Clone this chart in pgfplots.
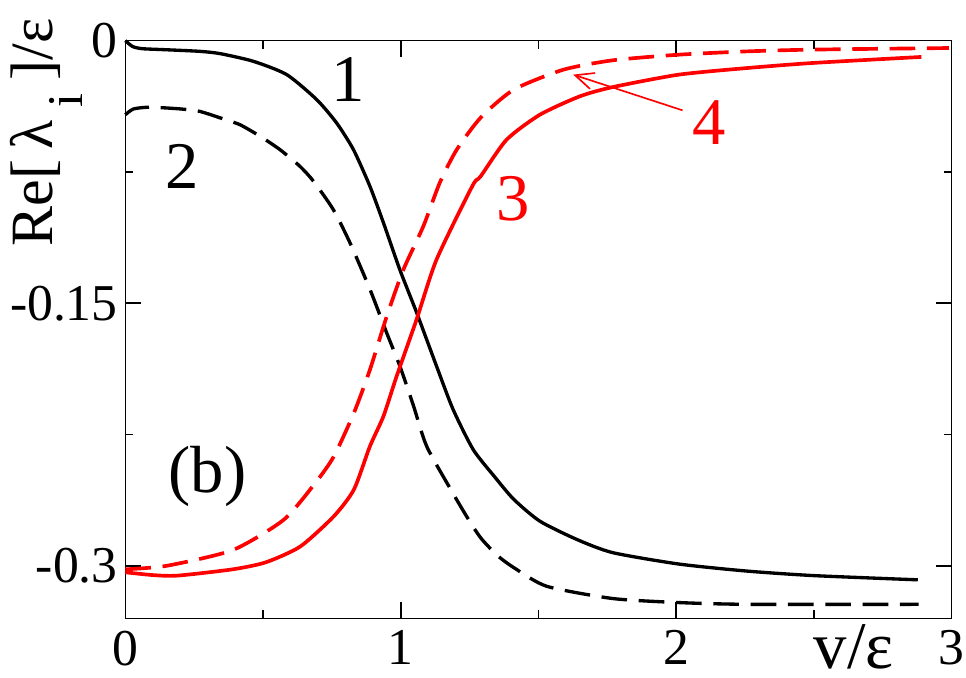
\documentclass[border=0pt]{standalone}
\usepackage{fontspec}
\setmainfont{Liberation Serif}
\usepackage{pgfplots}
\pgfplotsset{compat=1.18}
\usetikzlibrary{arrows.meta}

\begin{document}
\begin{tikzpicture}
\begin{axis}[
  scale only axis, width=247.9pt, height=173.3pt,
  xmin=0, xmax=3, ymin=-0.33, ymax=0,
  xtick={0,1,2,3}, xticklabels={0,1,2,3},
  ytick={-0.3,-0.15,0}, yticklabels={-0.3,-0.15,0},
  minor x tick num=1, minor y tick num=1,
  tick align=inside, xtick pos=both, ytick pos=both,
  xticklabel pos=lower, yticklabel pos=left,
  major tick length=4.8pt, minor tick length=2.4pt,
  axis line style={line width=0.45pt},
  tick style={black, line width=0.45pt},
  ticklabel style={font=\fontsize{15.5}{16}\selectfont, inner sep=0pt},
  xticklabel style={yshift=-3.5pt},
  yticklabel style={xshift=-2.1pt},
  every axis plot/.append style={smooth, tension=0.4, line join=round},
  clip=false,
]
% 1
\addplot[black, line width=1pt] coordinates {
(0,0) (0.027,-0.0034) (0.063,-0.0046) (0.15,-0.0052) (0.27,-0.0061)
(0.344,-0.0074) (0.465,-0.0118) (0.586,-0.0194) (0.695,-0.0337) (0.767,-0.047)
(0.828,-0.0622) (0.888,-0.0832) (0.937,-0.104) (0.997,-0.131) (1.058,-0.1555)
(1.13,-0.186) (1.19,-0.2107) (1.263,-0.2336) (1.34,-0.249) (1.41,-0.262)
(1.505,-0.2745) (1.64,-0.285) (1.77,-0.2925) (2.01,-0.299) (2.256,-0.303)
(2.50,-0.3056) (2.877,-0.308)};
% 2
\addplot[black, line width=1pt, dash pattern=on 7.7pt off 3.5pt] coordinates {
(0,-0.0423) (0.03,-0.039) (0.09,-0.038) (0.2,-0.039) (0.27,-0.0404)
(0.344,-0.0441) (0.416,-0.048) (0.489,-0.0546) (0.561,-0.0622) (0.634,-0.0718)
(0.683,-0.0803) (0.755,-0.0965) (0.816,-0.1156) (0.888,-0.142) (0.949,-0.167)
(0.997,-0.186) (1.045,-0.208) (1.094,-0.2317) (1.18,-0.256) (1.24,-0.272)
(1.29,-0.284) (1.35,-0.294) (1.41,-0.301) (1.53,-0.3117) (1.77,-0.3187)
(2.01,-0.321) (2.26,-0.322) (2.88,-0.322)};
% 3
\addplot[red, line width=1.1pt] coordinates {
(0,-0.3037) (0.1,-0.3053) (0.19,-0.3056) (0.39,-0.302) (0.51,-0.298)
(0.635,-0.289) (0.757,-0.2717) (0.83,-0.2564) (0.888,-0.2317) (0.937,-0.2146)
(0.985,-0.1917) (1.058,-0.159) (1.13,-0.125) (1.26,-0.083) (1.29,-0.0775)
(1.384,-0.0566) (1.505,-0.0423) (1.65,-0.0318) (1.77,-0.0265) (2.01,-0.0194)
(2.26,-0.0156) (2.50,-0.0127) (2.89,-0.0093)};
% 4
\addplot[red, line width=1.1pt, dash pattern=on 7.7pt off 3.5pt] coordinates {
(0,-0.302) (0.15,-0.300) (0.39,-0.291) (0.575,-0.2737) (0.69,-0.2526)
(0.757,-0.2375) (0.83,-0.2126) (0.888,-0.188) (0.949,-0.1575) (1.009,-0.131)
(1.082,-0.106) (1.142,-0.081) (1.203,-0.0623) (1.29,-0.044) (1.41,-0.028)
(1.59,-0.0166) (1.77,-0.0112) (2.01,-0.008) (2.26,-0.0061) (2.50,-0.0051)
(2.99,-0.0042)};

\node[font=\fontsize{20}{20}\selectfont] at (axis cs:0.81,-0.0223) {1};
\node[font=\fontsize{20}{20}\selectfont] at (axis cs:0.208,-0.0718) {2};
\node[red, font=\fontsize{20}{20}\selectfont] at (axis cs:1.408,-0.0902) {3};
\node[red, font=\fontsize{20}{20}\selectfont] at (axis cs:2.119,-0.0466) {4};
\node[font=\fontsize{20}{20}\selectfont] at (axis cs:0.298,-0.249) {(b)};
\draw[red, line width=0.5pt, -{Straight Barb[length=5.5pt,width=5pt]}]
  (axis cs:2.023,-0.0398) -- (axis cs:1.626,-0.0194);
\end{axis}
\node[rotate=90, anchor=base west, inner sep=0pt, font=\fontsize{18}{18}\selectfont]
  at (-21.7pt,111.4pt) {Re[\,λ\hspace{4pt}\raisebox{-9pt}{\fontsize{15}{15}\selectfont i}\hspace{4pt}]/ε};
\node[anchor=base west, inner sep=0pt, font=\fontsize{20}{20}\selectfont]
  at (206.3pt,-15pt) {v/ε};
\pgfresetboundingbox
\path (-37.6pt,-17.9pt) rectangle (252.2pt,185.5pt);
\end{tikzpicture}
\end{document}
